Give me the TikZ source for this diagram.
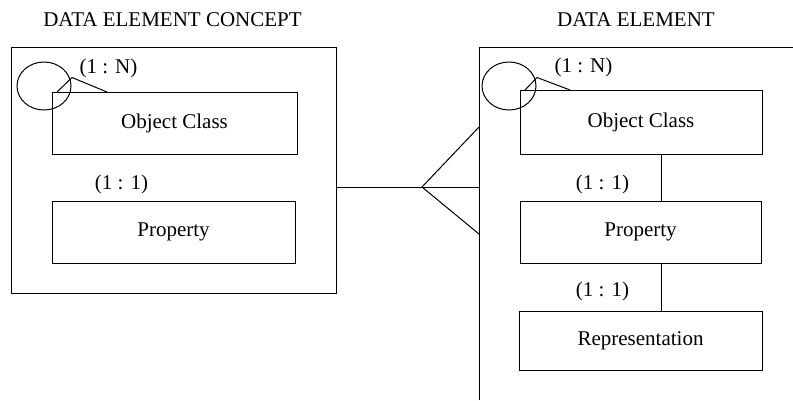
\documentclass[tikz,border=0pt]{standalone}
\usepackage{fontspec}
\setmainfont{Liberation Serif}
\usetikzlibrary{shapes.geometric,calc}
\begin{document}
\begin{tikzpicture}[x=1pt,y=-1pt,line width=1pt,
  font=\fontsize{21}{24}\selectfont,
  entity/.style={draw,rectangle,inner sep=0pt},
  selfloop/.style={draw,ellipse,inner sep=0pt,minimum width=54pt,minimum height=48pt},
  card/.style={anchor=base,inner sep=0pt},
  title/.style={anchor=base,inner sep=0pt}]
\useasboundingbox (0,0) rectangle (793,400);

% titles
\node[title] (tDEC) at (172.5,26) {DATA ELEMENT CONCEPT};
\node[title] (tDE)  at (636,26)   {DATA ELEMENT};

% data element concept
\node[entity,minimum width=325pt,minimum height=246pt] (dec) at (173.5,170) {};
\node[entity,minimum width=245pt,minimum height=62pt] (ocL) at (174.5,123) {Object Class};
\node[entity,minimum width=243pt,minimum height=62pt] (prL) at (173.5,232) {Property};
\node[card] (cardNL) at (108.5,73)  {(1 : N)};
\node[card] (card1L) at (121.5,189) {(1 : 1)};

% self relation of the object class
\node[selfloop] (selfL) at (44,86) {};
\coordinate (tipL) at (72,77.5);
\coordinate (footLa) at (57,92);
\coordinate (footLb) at (107,92);
\draw (footLa) -- (tipL) -- (footLb);

% data element (open frame)
\coordinate (deBL) at (479,400);
\coordinate (deTR) at (793,47);
\draw (deBL) |- (deTR);
\node[entity,minimum width=242pt,minimum height=64pt] (ocR) at (641,122) {Object Class};
\node[entity,minimum width=241pt,minimum height=62pt] (prR) at (640.5,232) {Property};
\node[entity,minimum width=243pt,minimum height=59pt] (repR) at (640.5,340.5) {Representation};
\node[card] (cardNR) at (583.5,72)  {(1 : N)};
\node[card] (card1R) at (602.5,189) {(1 : 1)};
\node[card] (card2R) at (602.5,296) {(1 : 1)};

\node[selfloop] (selfR) at (509,86) {};
\coordinate (tipR) at (537,77.5);
\coordinate (footRa) at (525,90);
\coordinate (footRb) at (570,90);
\draw (footRa) -- (tipR) -- (footRb);

% links inside the data element
\draw ([xshift=20pt]ocR.south) -- ([xshift=20pt]ocR.south |- prR.north);
\draw ([xshift=20.5pt]prR.south) -- ([xshift=20.5pt]prR.south |- repR.north);

% one-to-many link between the two frames
\coordinate (crow) at (422,187);
\coordinate (crowTop) at (479,127);
\coordinate (crowMid) at (479,187);
\coordinate (crowBot) at (479,234);
\draw (dec.east |- crow) -- (crowMid);
\draw (crowTop) -- (crow) -- (crowBot);
\end{tikzpicture}
\end{document}
